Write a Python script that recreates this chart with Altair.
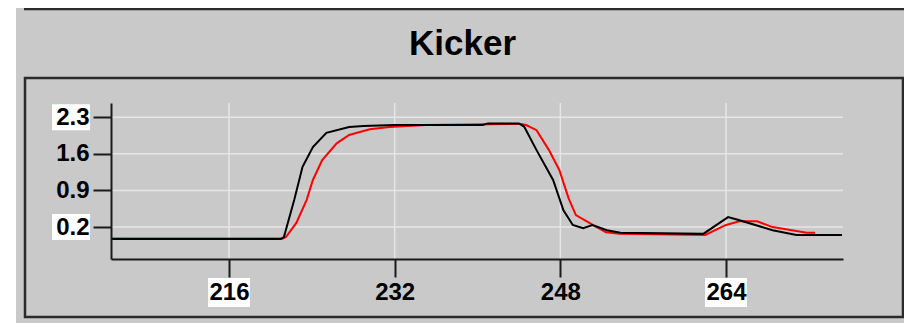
import altair as alt
import pandas as pd

# ---- data ----
x_ticks = [216, 232, 248, 264]
y_ticks = [0.2, 0.9, 1.6, 2.3]
x_boxed = [216, 264]
y_boxed = [2.3, 0.2]

black_x = [204.6, 221.0, 221.3, 222.3, 223.1, 224.1, 225.4, 227.6, 229.0, 232.0,
           240.5, 241.0, 244.0, 244.5, 245.7, 247.3, 248.3, 249.2, 250.2, 251.1,
           252.5, 253.8, 261.8, 264.2, 265.3, 268.5, 270.8, 275.2]
black_y = [-0.03, -0.03, 0.01, 0.72, 1.35, 1.73, 2.00, 2.11, 2.13, 2.15,
           2.15, 2.18, 2.18, 2.12, 1.67, 1.10, 0.52, 0.24, 0.18, 0.24,
           0.14, 0.09, 0.07, 0.39, 0.33, 0.14, 0.05, 0.05]

red_x = [204.6, 221.2, 221.5, 222.5, 223.5, 224.1, 225.0, 226.4, 227.6, 229.6,
         231.5, 235.0, 244.2, 244.7, 245.7, 246.9, 247.9, 248.8, 249.5, 250.8,
         252.4, 253.7, 262.0, 264.0, 265.3, 267.0, 268.5, 271.8, 272.6]
red_y = [-0.02, -0.02, 0.01, 0.28, 0.72, 1.10, 1.48, 1.80, 1.96, 2.07,
         2.11, 2.15, 2.17, 2.15, 2.05, 1.67, 1.29, 0.75, 0.43, 0.28,
         0.10, 0.07, 0.05, 0.24, 0.31, 0.31, 0.20, 0.09, 0.09]

black_df = pd.DataFrame({"x": black_x, "y": black_y})
red_df = pd.DataFrame({"x": red_x, "y": red_y})

W, H = 732, 156
FONT = "Liberation Sans"

xs = alt.Scale(domain=[204.6, 275.3], nice=False, zero=False)
ys = alt.Scale(domain=[-0.41, 2.57], nice=False, zero=False)
xaxis = alt.Axis(values=x_ticks, format="d", title=None, grid=False, zindex=1,
                 labelPadding=3, labelFontSize=24)
yaxis = alt.Axis(values=y_ticks, format=".1f", title=None, grid=False, zindex=1,
                 labelPadding=4, labelFontSize=24)
xenc = alt.X("x:Q", scale=xs, axis=xaxis)
yenc = alt.Y("y:Q", scale=ys, axis=yaxis)

dummy = alt.Data(values=[{}])

bg = alt.Chart(dummy).mark_rect(color="#c9c9c9").encode(
    x=alt.value(-95), x2=alt.value(801), y=alt.value(-95), y2=alt.value(228))

top_line = alt.Chart(dummy).mark_rule(color="#2a2a2a", strokeWidth=2.5).encode(
    x=alt.value(-87), x2=alt.value(793), y=alt.value(-94))

frame = alt.Chart(dummy).mark_rect(fillOpacity=0, stroke="#2a2a2a", strokeWidth=2.5).encode(
    x=alt.value(-86), x2=alt.value(792), y=alt.value(-25), y2=alt.value(214))

title = alt.Chart(dummy).mark_text(
    text="Kicker", font=FONT, fontWeight="bold", fontSize=35,
    align="center", baseline="alphabetic", color="black").encode(
    x=alt.value(351.5), y=alt.value(-48))

vgrid = alt.Chart(pd.DataFrame({"x": x_ticks})).mark_rule(
    color="#e6e6e6", strokeWidth=1.5).encode(x=xenc, y=alt.value(0), y2=alt.value(H))
hgrid = alt.Chart(pd.DataFrame({"y": y_ticks})).mark_rule(
    color="#e6e6e6", strokeWidth=1.5).encode(y=yenc, x=alt.value(0), x2=alt.value(W))

xbox = alt.Chart(pd.DataFrame({"x": x_boxed})).mark_rect(
    color="white", xOffset=-21, x2Offset=21).encode(
    x=xenc, x2=alt.X2("x:Q"), y=alt.value(175), y2=alt.value(204))
ybox = alt.Chart(pd.DataFrame({"y": y_boxed})).mark_rect(
    color="white", yOffset=-13, y2Offset=13).encode(
    y=yenc, y2=alt.Y2("y:Q"), x=alt.value(-59), x2=alt.value(-21))

red_line = alt.Chart(red_df).mark_line(color="#ff0000", strokeWidth=2).encode(
    x=xenc, y=yenc)
black_line = alt.Chart(black_df).mark_line(color="#000000", strokeWidth=2).encode(
    x=xenc, y=yenc)

chart = alt.layer(
    bg, top_line, frame, title, vgrid, hgrid, xbox, ybox, red_line, black_line
).properties(
    width=W, height=H,
    autosize="none",
    padding={"left": 103, "top": 95, "right": 61, "bottom": 64},
    background="white",
).configure_view(stroke=None).configure_axis(
    domainColor="#1a1a1a", domainWidth=2,
    tickColor="#1a1a1a", tickWidth=2, tickSize=18,
    labelFont=FONT, labelFontWeight="bold", labelColor="black",
)

chart.save("out.html", embed_options={"renderer": "svg", "actions": False})
